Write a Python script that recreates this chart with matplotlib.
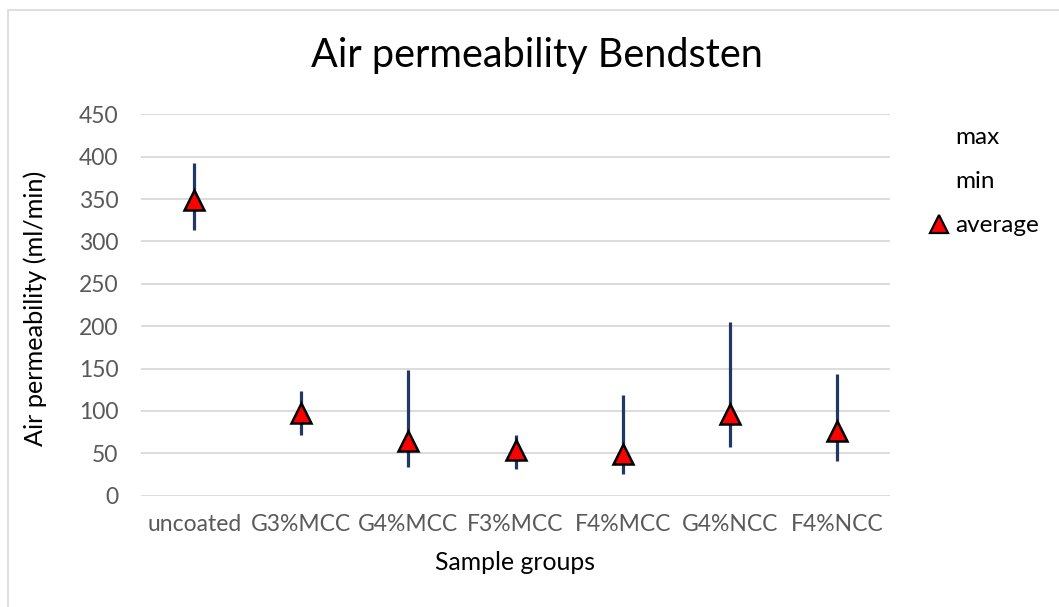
import matplotlib
matplotlib.use("Agg")
import matplotlib.pyplot as plt
from matplotlib.lines import Line2D
from matplotlib.patches import Rectangle
import numpy as np

# Bendsten air permeability per sample group (ml/min)
groups = ["uncoated", "G3%MCC", "G4%MCC", "F3%MCC", "F4%MCC", "G4%NCC", "F4%NCC"]
max_vals = [392, 123, 148, 72, 119, 205, 144]
min_vals = [313, 72, 34, 32, 26, 57, 41]
avg_vals = [349, 98, 64, 54, 49, 96, 76]
y_ticks = [0, 50, 100, 150, 200, 250, 300, 350, 400, 450]

W, H = 1059, 607
FONT = "Lato"
plt.rcParams["font.family"] = [FONT, "DejaVu Sans"]

fig = plt.figure(figsize=(W / 100, H / 100), dpi=100)

# outer chart frame (only its left and top edges fall inside the image)
fig.patches.append(Rectangle((8 / W, -0.1), 1.2, 1.1 - 10 / H, transform=fig.transFigure,
                             fill=False, edgecolor="#d9d9d9", linewidth=1.2))

left, right, top, bottom = 140.6, 890.4, 114.3, 495.7
ax = fig.add_axes([left / W, 1 - bottom / H, (right - left) / W, (bottom - top) / H])

x = np.arange(len(groups))
ax.vlines(x, min_vals, max_vals, color="#1f3864", linewidth=2.3, zorder=2)
ax.plot(x, avg_vals, linestyle="none", marker="^", markersize=15,
        markerfacecolor="#ff0000", markeredgecolor="black", markeredgewidth=1.8, zorder=3)

ax.set_xlim(-0.5, len(groups) - 0.5)
ax.set_ylim(0, 450)
ax.set_yticks(y_ticks)
ax.set_xticks(x)
ax.set_xticklabels(groups)
ax.grid(axis="y", color="#d9d9d9", linewidth=1.3, zorder=0)
ax.set_axisbelow(True)
for s in ax.spines.values():
    s.set_visible(False)
ax.tick_params(axis="both", length=0, labelsize=16.5, labelcolor="#595959")
ax.tick_params(axis="y", pad=16)
ax.tick_params(axis="x", pad=13)

fig.text(537 / W, 1 - 67 / H, "Air permeability Bendsten", ha="center", va="baseline",
         fontsize=28.5, color="black")
fig.text(35 / W, 1 - 308 / H, "Air permeability (ml/min)", ha="center", va="center",
         rotation=90, fontsize=18.2, color="black")
fig.text(515 / W, 1 - 570 / H, "Sample groups", ha="center", va="baseline",
         fontsize=17.8, color="black")

handles = [
    Line2D([], [], linestyle="none"),
    Line2D([], [], linestyle="none"),
    Line2D([], [], linestyle="none", marker="^", markersize=13,
           markerfacecolor="#ff0000", markeredgecolor="black", markeredgewidth=1.6),
]
ax.legend(handles, ["max", "min", "average"], loc="upper left",
          bbox_to_anchor=(929 / W, 1 - 127 / H), bbox_transform=fig.transFigure,
          frameon=False, fontsize=17.5, handlelength=0.85, handletextpad=0.25,
          labelspacing=0.95, borderpad=0, borderaxespad=0)

fig.savefig("out.png", dpi=100, facecolor="white")
